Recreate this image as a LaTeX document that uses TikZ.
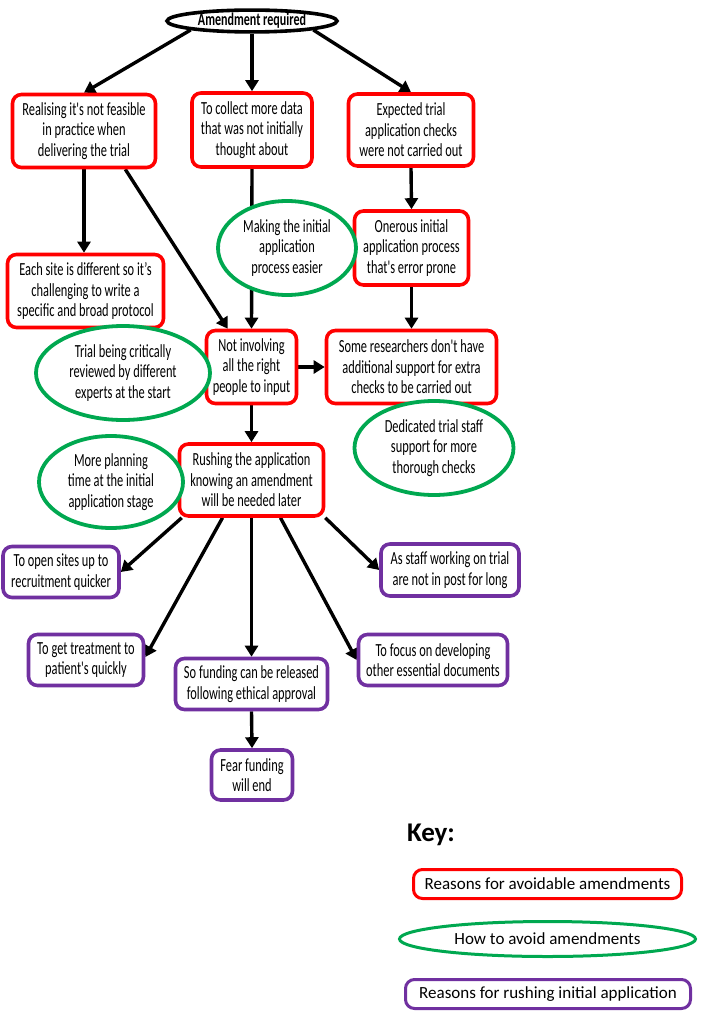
\documentclass[tikz,border=0pt]{standalone}
\usepackage{fontspec}
\setmainfont{Carlito}
\newfontfamily\narrowfont[FakeStretch=0.67]{Carlito}
\usepackage{tikz}
\usetikzlibrary{positioning,shapes.geometric,arrows.meta,backgrounds}
\definecolor{boxred}{RGB}{255,0,0}
\definecolor{ovalgreen}{RGB}{0,168,80}
\definecolor{rushpurple}{RGB}{112,48,160}
\tikzset{
	reason/.style={draw=boxred,line width=3.6pt,rounded corners=9pt,fill=white,align=center,inner sep=0pt,font=\narrowfont\fontsize{18.5}{20.5}\selectfont},
	rush/.style={reason,draw=rushpurple},
	avoid/.style={ellipse,draw=ovalgreen,line width=3.8pt,fill=white,align=center,inner sep=0pt,font=\narrowfont\fontsize{18.5}{20.5}\selectfont},
	flow/.style={-{Triangle[length=11pt,width=13pt]},line width=3.4pt}
}

\begin{document}
\begin{tikzpicture}[x=1pt,y=-1pt]
		\useasboundingbox (0,0) rectangle (713,1011);
		% top of the tree
		\node(amend) at (252,21) [ellipse,draw,line width=3.6pt,fill=white,inner sep=0pt,minimum width=170pt,minimum height=20pt,font=\narrowfont\bfseries\fontsize{18}{19}\selectfont] {Amendment required};
		\node(feas) at (84,131) [reason,minimum width=143pt,minimum height=73pt] {Realising it's not feasible\\in practice when\\delivering the trial};
		\node(data) at (252,130) [reason,minimum width=120pt,minimum height=74pt] {To collect more data\\that was not initially\\thought about};
		\node(checks) at (411,130) [reason,minimum width=125pt,minimum height=72pt] {Expected trial\\application checks\\were not carried out};
		\node(oner) at (411.5,248) [reason,minimum width=114pt,minimum height=74pt] {Onerous initial\\application process\\that's error prone};
		\node(site) at (85.5,291) [reason,minimum width=156pt,minimum height=73pt] {Each site is different so it’s\\challenging to write a\\specific and broad protocol};
		\node(input) at (251.5,367) [reason,minimum width=90pt,minimum height=73pt] {Not involving\\all the right\\people to input};
		\node(supp) at (411.5,367) [reason,minimum width=170pt,minimum height=73pt] {Some researchers don't have\\additional support for extra\\checks to be carried out};
		\node(rushing) at (251.5,480) [reason,minimum width=144pt,minimum height=72pt] {Rushing the application\\knowing an amendment\\will be needed later};
		% why rush
		\node(sites) at (61,572) [rush,minimum width=116pt,minimum height=51pt] {To open sites up to\\recruitment quicker};
		\node(staff) at (450,570) [rush,minimum width=138pt,minimum height=52pt] {As staff working on trial\\are not in post for long};
		\node(treat) at (86,660) [rush,minimum width=115pt,minimum height=51pt] {To get treatment to\\patient's quickly};
		\node(fund) at (251.5,684) [rush,minimum width=152pt,minimum height=51pt] {So funding can be released\\following ethical approval};
		\node(docs) at (433,660) [rush,minimum width=149pt,minimum height=51pt] {To focus on developing\\other essential documents};
		\node(fear) at (252,775) [rush,minimum width=81pt,minimum height=50pt] {Fear funding\\will end};
		% how to avoid
		\node(easier) at (287,248) [avoid,minimum width=138pt,minimum height=94pt] {Making the initial\\application\\process easier};
		\node(review) at (123,373) [avoid,minimum width=174pt,minimum height=94pt] {Trial being critically\\reviewed by different\\experts at the start};
		\node(dedic) at (434,448) [avoid,minimum width=159pt,minimum height=94pt] {Dedicated trial staff\\support for more\\thorough checks};
		\node(plan) at (111,482) [avoid,minimum width=144pt,minimum height=92pt] {More planning\\time at the initial\\application stage};
		% key
		\node(key) at (431,835) [font=\bfseries\fontsize{27}{30}\selectfont] {Key:};
		\node(keyr) at (547.5,884) [reason,line width=3pt,minimum width=268pt,minimum height=29pt,font=\fontsize{17}{20}\selectfont] {Reasons for avoidable amendments};
		\node(keyg) at (547.5,939) [avoid,line width=3pt,minimum width=296pt,minimum height=35pt,font=\fontsize{17}{20}\selectfont] {How to avoid amendments};
		\node(keyp) at (548,994) [rush,line width=3pt,minimum width=285pt,minimum height=29pt,font=\fontsize{17}{20}\selectfont] {Reasons for rushing initial application};
		\begin{scope}[on background layer]
		\path[flow]
			(amend.south west) edge (feas.north)
			(amend.south) edge (data.north)
			(amend.south east) edge (checks.north)
			(feas.south) edge (feas.south |- site.north)
			([xshift=-32pt]feas.south east) edge ([xshift=23pt]input.north west)
			(data.south) edge (input.north)
			(checks.south) edge (oner.north)
			(oner.south) edge (supp.north)
			(input.east) edge (supp.west)
			(input.south) edge (rushing.north)
			([xshift=4pt]rushing.south west) edge (sites.east)
			([xshift=-29pt]rushing.south) edge ([yshift=3pt]treat.east)
			(rushing.south) edge (fund.north)
			([xshift=29pt]rushing.south) edge (docs.west)
			(rushing.south east) edge (staff.west)
			(fund.south) edge (fear.north);
		\end{scope}
	\end{tikzpicture}
\end{document}
